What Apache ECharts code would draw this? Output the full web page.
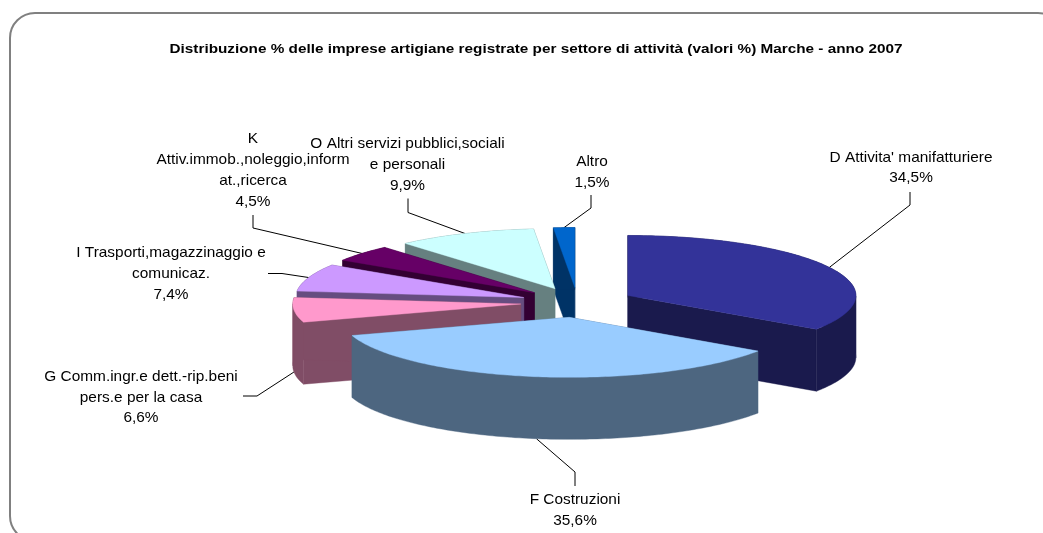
<!DOCTYPE html>
<html><head><meta charset="utf-8">
<script src="https://cdn.jsdelivr.net/npm/echarts@6/dist/echarts.min.js"></script>
<style>html,body{margin:0;padding:0;background:#fff}#c{width:1043px;height:533px}</style>
</head><body><div id="c"></div>
<script>
const titleText = "Distribuzione % delle imprese artigiane registrate per settore di attività (valori %) Marche - anno 2007";
const categories = ["D Attivita' manifatturiere","F Costruzioni","G Comm.ingr.e dett.-rip.beni\npers.e per la casa","I Trasporti,magazzinaggio e\ncomunicaz.","K\nAttiv.immob.,noleggio,inform\nat.,ricerca","O Altri servizi pubblici,sociali\ne personali","Altro"];
const shares = [34.5,35.6,6.6,7.4,4.5,9.9,1.5];
const topColors = ["#333399","#99CCFF","#FF99CC","#CC99FF","#660066","#CCFFFF","#0066CC"];
const wallColors = ["#1A1A4D","#4D6680","#804D66","#664D80","#330033","#668080","#003366"];
const paintOrder = [5,6,4,3,2,1,0];

// layout of the projected pie
const cx=577.5, cy=302.5, rx=228, ry=60, depth=62, explode=57;
// label centre and the two leader bend points, per slice
const labelAt = [[911,168],[575,510.5],[141,397.5],[171,274],[253,170.5],[407.5,165],[592,172.5]];
const bendA = [[910,205],[575,472],[257,396],[282,273.5],[253,228],[408,212.5],[591,208]];
const bendB = [[910,192],[575,486],[243,396],[268,273.5],[253,215],[408,198.5],[591,195]];

const total = shares.reduce((a,b)=>a+b,0);
const rad = d=>d*Math.PI/180;

function renderSlice(params, api){
  const i = params.dataIndex;
  const v = api.value(0);
  let start = 0; for(let k=0;k<i;k++) start += shares[k]/total*360;
  const sweep = v/total*360, mid = start+sweep/2;
  const ax = cx + explode*Math.sin(rad(mid));
  const ay = cy - explode*ry/rx*Math.cos(rad(mid));
  const pt = t=>[ax+rx*Math.sin(rad(t)), ay-ry*Math.cos(rad(t))];
  const down = p=>[p[0],p[1]+depth];
  const arc=[]; const n=Math.max(6,Math.ceil(sweep));
  for(let k=0;k<=n;k++) arc.push(pt(start+sweep*k/n));
  const apex=[ax,ay], z=paintOrder[i]*3+1;
  const poly=(points,fill,z2)=>({type:'polygon',z2,shape:{points},style:{fill,stroke:fill,lineWidth:0.4}});
  const wall=wallColors[i];
  const children=[
    poly([apex,arc[0],down(arc[0]),down(apex)],wall,z),
    poly([apex,arc[n],down(arc[n]),down(apex)],wall,z)
  ];
  // outer wall: one polygon per run of the arc that does not fold back in x
  let run=[arc[0]], dir=0;
  for(let k=1;k<=n;k++){
    const d=Math.sign(arc[k][0]-arc[k-1][0]);
    if(dir && d!==dir){
      children.push(poly(run.concat(run.map(down).reverse()),wall,z));
      run=[arc[k-1]];
    }
    dir=d; run.push(arc[k]);
  }
  children.push(poly(run.concat(run.map(down).reverse()),wall,z));
  children.push(poly([apex].concat(arc),topColors[i],z+1));
  let s=pt(mid); if(Math.cos(rad(mid))<0) s=down(s);
  children.push({type:'polyline',z2:0,shape:{points:[s,bendA[i],bendB[i]]},style:{stroke:'#000',lineWidth:1,fill:null}});
  children.push({type:'text',z2:40,x:labelAt[i][0],y:labelAt[i][1],scaleX:1.062,style:{
    text:categories[i]+"\n"+v.toFixed(1).replace('.',',')+"%",
    x:0,y:0,align:'center',verticalAlign:'middle',
    fontFamily:'"Liberation Sans",Arial,sans-serif',fontSize:14.5,lineHeight:20.7,fill:'#000'}});
  return {type:'group',children};
}

const chart=echarts.init(document.getElementById('c'),null,{renderer:'canvas'});
chart.setOption({
  animation:false,
  backgroundColor:'#fff',
  graphic:[
    {type:'rect',silent:true,z:-1,shape:{x:10,y:13,width:1053,height:528,r:25},
      style:{fill:'#fff',stroke:'#808080',lineWidth:2}},
    {type:'text',silent:true,z:5,x:536,y:49,scaleX:1.177,style:{text:titleText,x:0,y:0,align:'center',verticalAlign:'middle',
      fontFamily:'"Liberation Sans",Arial,sans-serif',fontSize:13,fontWeight:'bold',fill:'#000'}}
  ],
  series:[{type:'custom',coordinateSystem:'none',clip:false,silent:true,
    renderItem:renderSlice,
    data:shares.map(v=>[v])}]
});
</script></body></html>
